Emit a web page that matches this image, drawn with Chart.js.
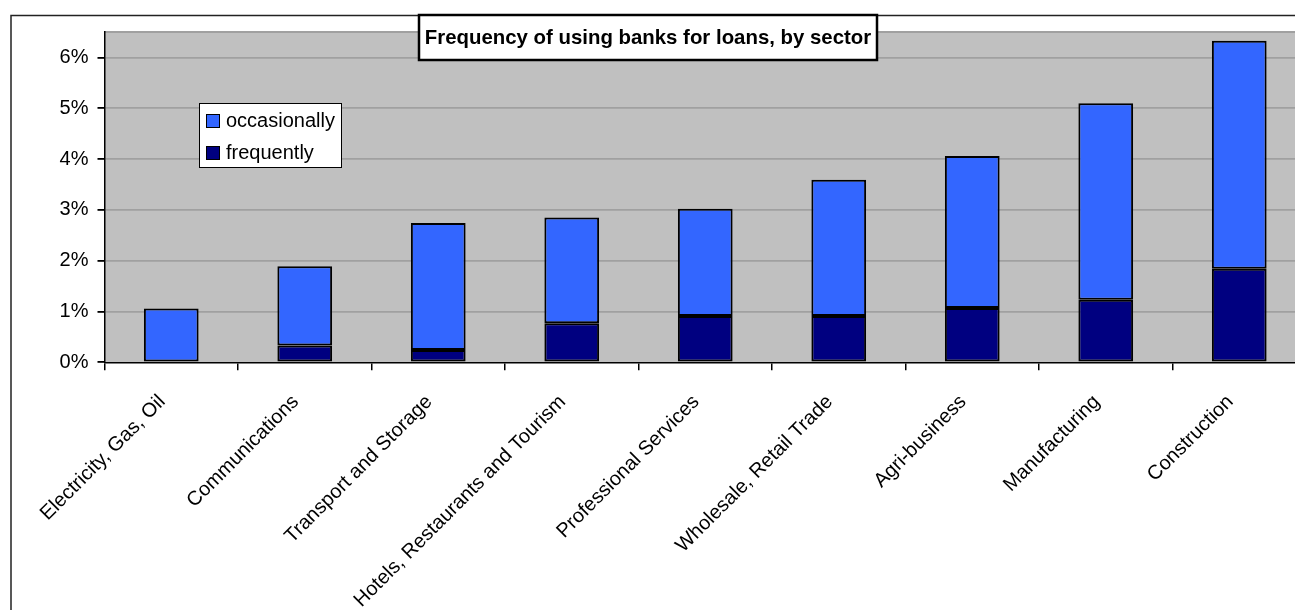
<!DOCTYPE html>
<html>
<head>
<meta charset="utf-8">
<title>Frequency of using banks for loans, by sector</title>
<script src="https://cdn.jsdelivr.net/npm/chart.js@4.4.1/dist/chart.umd.min.js"></script>
<style>
  html, body { margin: 0; padding: 0; overflow: hidden; background: #fff; }
  #wrap { position: absolute; left: 0; top: 0; width: 1330px; height: 650px; }
</style>
</head>
<body>
<div id="wrap"><canvas id="chart"></canvas></div>
<script>
// Share of firms using banks for loans, in percent
const sectors = [
    "Electricity, Gas, Oil",
    "Communications",
    "Transport and Storage",
    "Hotels, Restaurants and Tourism",
    "Professional Services",
    "Wholesale, Retail Trade",
    "Agri-business",
    "Manufacturing",
    "Construction"
];
const frequently   = [0.00, 0.33, 0.24, 0.77, 0.91, 0.91, 1.07, 1.23, 1.84];
const occasionally = [1.06, 1.56, 2.50, 2.08, 2.11, 2.68, 2.99, 3.87, 4.49];
const yMax = 6.5;
const yStep = 1;
const chartTitle = "Frequency of using banks for loans, by sector";

const FONT = "'Liberation Sans', Arial, sans-serif";
const W = 1330, H = 650;

/**
 * Grey plot background, outer frame line
 */
const frame = {
    id: "frame",
    beforeDraw(chart) {
        const { ctx, chartArea: a } = chart;
        ctx.save();
        ctx.fillStyle = "#fff";
        ctx.fillRect(0, 0, W, H);
        ctx.strokeStyle = "#222";
        ctx.lineWidth = 1.5;
        ctx.strokeRect(11, 15.5, W + 50, H + 50);
        ctx.fillStyle = "#c0c0c0";
        ctx.fillRect(a.left, a.top, a.right - a.left, a.bottom - a.top);
        ctx.strokeStyle = "#a0a0a0";
        ctx.lineWidth = 1.8;
        ctx.beginPath();
        ctx.moveTo(a.left, a.top);
        ctx.lineTo(a.right, a.top);
        ctx.stroke();
        ctx.restore();
    }
};

/**
 * Boxed title and floating legend
 */
const overlay = {
    id: "overlay",
    afterDraw(chart) {
        const ctx = chart.ctx;
        ctx.save();

        // title box
        ctx.fillStyle = "#fff";
        ctx.fillRect(419, 15, 458, 45);
        ctx.strokeStyle = "#000";
        ctx.lineWidth = 2.5;
        ctx.strokeRect(419, 15, 458, 45);
        ctx.fillStyle = "#000";
        ctx.font = "bold 20.4px " + FONT;
        ctx.textAlign = "center";
        ctx.textBaseline = "middle";
        ctx.fillText(chartTitle, 648, 38);

        // legend, top entry is the top of the stack
        ctx.fillStyle = "#fff";
        ctx.fillRect(199.5, 103.5, 142, 64);
        ctx.lineWidth = 1;
        ctx.strokeRect(199.5, 103.5, 142, 64);
        ctx.font = "20px " + FONT;
        ctx.textAlign = "left";
        const items = chart.data.datasets.slice().reverse();
        items.forEach((ds, i) => {
            const y = 121 + i * 32;
            ctx.fillStyle = ds.backgroundColor;
            ctx.fillRect(206.5, y - 6.5, 13, 13);
            ctx.strokeStyle = "#000";
            ctx.strokeRect(206.5, y - 6.5, 13, 13);
            ctx.fillStyle = "#000";
            ctx.fillText(ds.label, 226, y);
        });
        ctx.restore();
    }
};

const el = document.getElementById("chart");
new Chart(el, {
    type: "bar",
    data: {
        labels: sectors,
        datasets: [
            {
                label: "frequently",
                data: frequently,
                backgroundColor: "#000080",
                borderColor: "#000",
                borderWidth: 2,
                borderSkipped: false
            },
            {
                label: "occasionally",
                data: occasionally,
                backgroundColor: "#3366ff",
                borderColor: "#000",
                borderWidth: 2,
                borderSkipped: false
            }
        ]
    },
    options: {
        responsive: true,
        maintainAspectRatio: false,
        animation: false,
        layout: { padding: { left: 0, top: 32, right: W - 1306, bottom: 0 } },
        datasets: { bar: { categoryPercentage: 1, barPercentage: 0.41 } },
        plugins: {
            legend: { display: false },
            title: { display: false },
            tooltip: { enabled: false }
        },
        scales: {
            x: {
                stacked: true,
                afterFit: s => { s.height = H - 362.3; },
                grid: {
                    offset: true,
                    drawOnChartArea: false,
                    tickLength: 8,
                    tickColor: "#000",
                    lineWidth: 1.5
                },
                border: { color: "#000", width: 1.5 },
                ticks: {
                    autoSkip: false,
                    minRotation: 45,
                    maxRotation: 45,
                    padding: 20,
                    labelOffset: -9,
                    color: "#000",
                    font: { family: FONT, size: 20 }
                }
            },
            y: {
                stacked: true,
                min: 0,
                max: yMax,
                afterFit: s => { s.width = 104.5; },
                grid: {
                    color: c => (c.tick && c.tick.value === 0 ? "rgba(0,0,0,0)" : "#a0a0a0"),
                    lineWidth: 1.8,
                    tickLength: 7,
                    tickColor: "#000"
                },
                border: { color: "#000", width: 1.5 },
                ticks: {
                    stepSize: yStep,
                    includeBounds: false,
                    padding: 9,
                    color: "#000",
                    font: { family: FONT, size: 20 },
                    callback: v => v + "%"
                }
            }
        }
    },
    plugins: [frame, overlay]
});
</script>
</body>
</html>
